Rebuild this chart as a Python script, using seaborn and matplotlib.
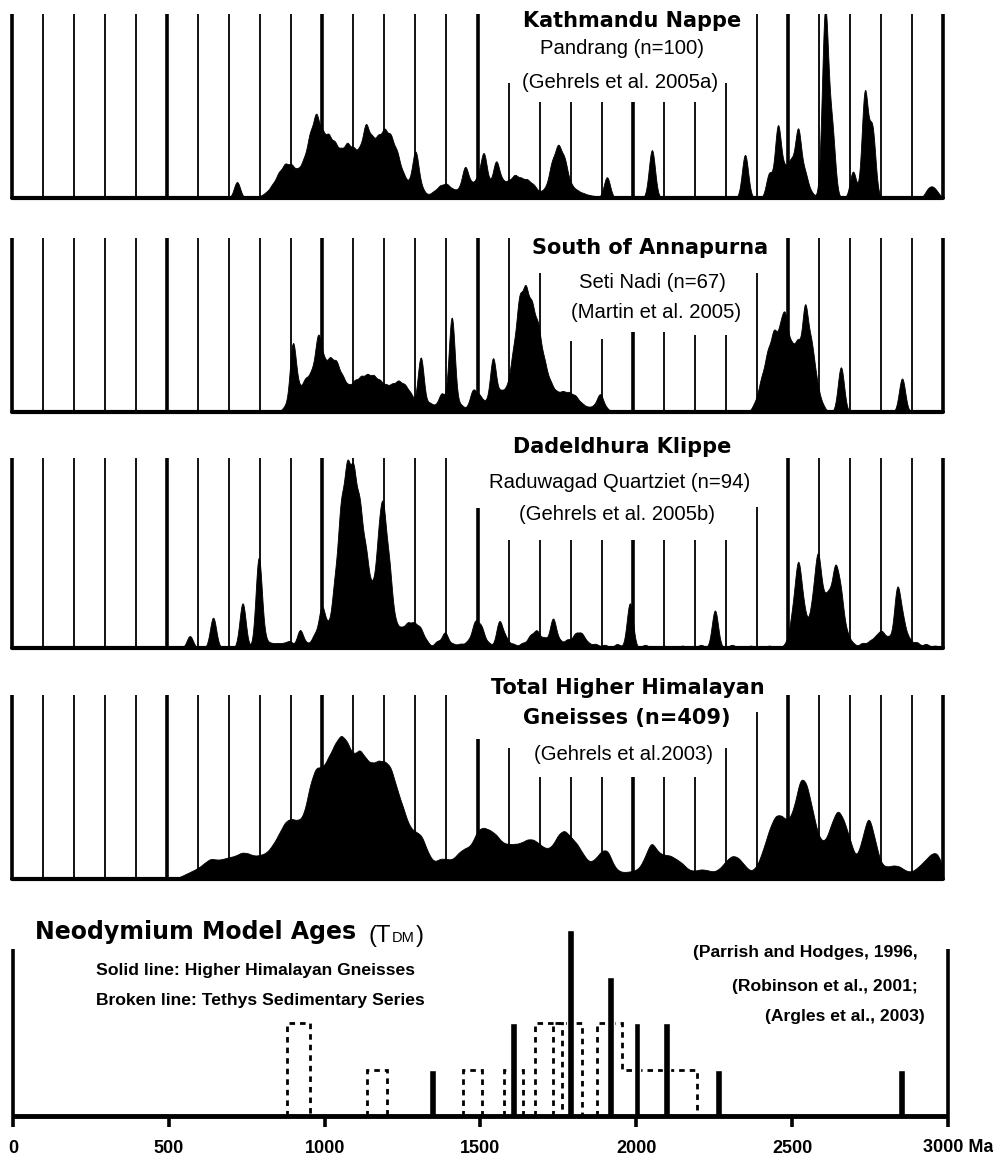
import numpy as np
import pandas as pd
import seaborn as sns
import matplotlib.pyplot as plt

sns.set_style('white')
plt.rcParams['font.family'] = ['DejaVu Sans']
plt.rcParams['text.color'] = 'black'
plt.rcParams['xtick.color'] = 'black'

NARROW = 'Liberation Sans'

# ---- detrital zircon age spectra (Ma, relative weight) ----
kathmandu_ages = [725, 800, 820, 840, 860, 880, 900, 920, 940, 960, 980, 1000, 1020, 1040,
                  1060, 1080, 1100, 1120, 1140, 1160, 1180, 1200, 1220, 1240, 1260, 1280,
                  1300, 1320, 1340, 1360, 1380, 1400, 1420, 1440, 1460, 1480, 1500, 1520,
                  1540, 1560, 1580, 1600, 1620, 1640, 1660, 1680, 1700, 1720, 1740, 1760,
                  1780, 1800, 1820, 1840, 1860, 1880, 1917, 2062, 2362, 2440, 2468, 2490,
                  2510, 2533, 2555, 2575, 2620, 2642, 2710, 2748, 2772, 2950, 2965, 2980]
kathmandu_weights = [20, 2, 6, 14, 26, 35, 34, 28, 38, 65, 88, 66, 64, 56,
                     48, 56, 50, 48, 78, 60, 62, 70, 64, 48, 25, 14,
                     55, 10, 3, 7, 13, 15, 9, 8, 36, 14, 20, 52,
                     12, 42, 17, 17, 24, 20, 19, 14, 6, 10, 38, 56,
                     42, 14, 8, 5, 3, 2, 26, 60, 54, 30, 88, 30,
                     40, 82, 28, 6, 230, 83, 33, 130, 85, 8, 10, 6]

annapurna_ages = [880, 905, 925, 945, 965, 986, 1005, 1025, 1045, 1065, 1085, 1105, 1125,
                  1145, 1165, 1185, 1205, 1225, 1245, 1265, 1285, 1317, 1345, 1365, 1385,
                  1417, 1445, 1465, 1485, 1505, 1525, 1550, 1575, 1595, 1615, 1635, 1655,
                  1675, 1695, 1715, 1735, 1755, 1775, 1795, 1815, 1835, 1855, 1875, 1895,
                  1915, 2395, 2415, 2435, 2455, 2475, 2492, 2512, 2532, 2555, 2575, 2592,
                  2610, 2671, 2868]
annapurna_weights = [6, 83, 22, 34, 40, 84, 50, 55, 52, 36, 26, 32, 36,
                     38, 37, 32, 27, 28, 32, 28, 20, 68, 10, 6, 22,
                     118, 8, 3, 25, 18, 10, 66, 22, 24, 62, 120, 128,
                     110, 90, 52, 30, 20, 21, 20, 17, 9, 5, 6, 21,
                     4, 10, 35, 62, 84, 78, 96, 66, 74, 120, 70, 28,
                     8, 56, 42]

dadeldhura_ages = [573, 648, 743, 795, 815, 835, 855, 875, 895, 928, 950, 975, 998, 1018,
                   1040, 1060, 1080, 1100, 1120, 1140, 1160, 1180, 1196, 1215, 1235, 1255,
                   1275, 1295, 1315, 1335, 1370, 1395, 1420, 1445, 1470, 1492, 1512, 1535,
                   1570, 1590, 1615, 1645, 1670, 1691, 1715, 1743, 1765, 1790, 1815, 1835,
                   1855, 1880, 1910, 1950, 1991, 2040, 2100, 2160, 2220, 2265, 2320, 2380,
                   2440, 2495, 2515, 2533, 2550, 2565, 2580, 2597, 2615, 2632, 2652, 2670,
                   2690, 2710, 2740, 2765, 2785, 2803, 2825, 2852, 2870, 2890, 2915, 2945,
                   2975]
dadeldhura_weights = [15, 38, 56, 112, 8, 5, 5, 5, 8, 22, 5, 15, 48, 22,
                      70, 150, 190, 185, 150, 100, 58, 100, 140, 88, 25, 20,
                      26, 26, 22, 8, 8, 19, 5, 5, 8, 30, 24, 6,
                      32, 12, 5, 6, 14, 20, 12, 36, 8, 10, 16, 16,
                      6, 5, 4, 5, 56, 4, 3, 3, 4, 47, 4, 3,
                      3, 5, 35, 92, 38, 12, 43, 100, 42, 52, 85, 60,
                      15, 5, 6, 8, 12, 18, 12, 70, 30, 10, 7, 5,
                      3]

himalaya_ages = list(range(540, 3001, 20))
himalaya_weights = [2, 5, 8, 11, 16, 21, 19, 20, 22, 23, 27, 26, 23, 24, 26, 34, 45, 58,
                    61, 58, 62, 95, 114, 110, 122, 135, 146, 138, 122, 132, 120, 115, 119,
                    118, 114, 90, 72, 52, 47, 45, 26, 16, 21, 20, 19, 27, 31, 33, 50, 52,
                    49, 45, 36, 35, 35, 36, 40, 40, 35, 30, 32, 45, 50, 42, 36, 25, 16, 20,
                    29, 30, 12, 7, 7, 8, 10, 22, 40, 27, 24, 24, 20, 16, 9, 8, 10, 9, 7,
                    10, 18, 24, 22, 14, 7, 12, 29, 50, 65, 64, 57, 70, 104, 98, 68, 40,
                    36, 55, 72, 60, 40, 18, 40, 69, 40, 14, 12, 14, 13, 8, 7, 12, 18, 25,
                    28, 12]

# ---- Nd model ages ----
hhg_ages = [1347, 1607, 1790, 1918, 2002, 2098, 2265, 2852]
hhg_counts = [1, 2, 4, 3, 2, 2, 1, 1]
tethys_edges = [[879, 953], [1136, 1200], [1444, 1505], [1575, 1636],
                [1675, 1760], [1733, 1826], [1874, 1954, 2194]]
tethys_counts = [[2], [1], [1], [1], [2], [2], [2, 1]]
nd_ticks = [0, 500, 1000, 1500, 2000, 2500, 3000]
nd_ticklabels = ['0', '500', '1000', '1500', '2000', '2500', '']

grid_ages = list(range(0, 3001, 100))

W, H = 993, 1159
fig = plt.figure(figsize=(W / 100, H / 100), dpi=100)


def ftext(x, y, s, **kw):
    fig.text(x / W, 1 - y / H, s, **kw)


def title(x, y, s):
    ftext(x, y, s, ha='center', va='center', fontsize=15, fontweight='bold')


def sub(x, y, s):
    ftext(x, y, s, ha='center', va='center', fontsize=14.6, family=NARROW)


def density_panel(top, bottom, ages, weights, bw, cuts):
    ax = fig.add_axes([12 / W, 1 - bottom / H, (943 - 12) / W, (bottom - top) / H])
    df = pd.DataFrame({'age': ages, 'weight': weights})
    spread = np.sqrt(np.cov(df['age'], aweights=df['weight']))
    sns.kdeplot(data=df, x='age', weights='weight', bw_method=bw / spread,
                fill=True, color='black', alpha=1, linewidth=0.6,
                gridsize=4000, ax=ax)
    ax.set_xlim(0, 3000)
    ax.set_ylim(0, (bottom - top) / (20 * df['weight'].sum()))
    tops = [cuts.get(a, 1.0) for a in grid_ages]
    widths = [2.6 if a % 500 == 0 else 1.3 for a in grid_ages]
    ax.vlines(grid_ages, 0, tops, transform=ax.get_xaxis_transform(),
              colors='black', linewidths=widths, clip_on=False)
    ax.axhline(0, color='black', lw=3, clip_on=False)
    ax.axis('off')
    return ax


density_panel(14, 198, kathmandu_ages, kathmandu_weights, 10,
              {1600: 0.625, 1700: 0.522, 1800: 0.522, 1900: 0.522, 2000: 0.522,
               2100: 0.522, 2200: 0.522, 2300: 0.625})
title(632, 21, 'Kathmandu Nappe')
sub(622, 48, 'Pandrang (n=100)')
sub(620, 82, '(Gehrels et al. 2005a)')

density_panel(238, 412, annapurna_ages, annapurna_weights, 10,
              {1700: 0.80, 1800: 0.41, 1900: 0.42, 2000: 0.46, 2100: 0.46,
               2200: 0.44, 2300: 0.44, 2400: 0.80})
title(650, 248, 'South of Annapurna')
sub(652, 283, 'Seti Nadi (n=67)')
sub(656, 313, '(Martin et al. 2005)')

density_panel(458, 648, dadeldhura_ages, dadeldhura_weights, 10,
              {1500: 0.737, 1600: 0.568, 1700: 0.568, 1800: 0.568, 1900: 0.568,
               2000: 0.568, 2100: 0.568, 2200: 0.568, 2300: 0.568, 2400: 0.742})
title(622, 447, 'Dadeldhura Klippe')
sub(620, 483, 'Raduwagad Quartziet (n=94)')
sub(617, 514, '(Gehrels et al. 2005b)')

density_panel(695, 879, himalaya_ages, himalaya_weights, 12,
              {1500: 0.76, 1600: 0.712, 1700: 0.554, 1800: 0.554, 1900: 0.554,
               2000: 0.554, 2100: 0.554, 2200: 0.554, 2300: 0.712, 2400: 0.908})
title(628, 688, 'Total Higher Himalayan')
title(627, 718, 'Gneisses (n=409)')
sub(623, 755, '(Gehrels et al.2003)')

# ---- Nd panel ----
unit = 46.5
ax = fig.add_axes([13 / W, 1 - 1116 / H, (948 - 13) / W, 195 / H])
ax.bar(hhg_ages, hhg_counts, width=22, color='black', zorder=3)
for edges, counts in zip(tethys_edges, tethys_counts):
    ax.stairs(counts, edges, baseline=0, fill=False, color='black',
              linewidth=2.0, linestyle=(0, (2.0, 1.8)))
ax.set_xlim(0, 3000)
ax.set_ylim(0, 195 / unit)
for s in ax.spines.values():
    s.set_visible(False)
ax.hlines(0, 0, 3000, color='black', lw=3.5, clip_on=False, zorder=4)
ax.vlines([0, 3000], 0, 3.6, color='black', lw=2.6, clip_on=False)
ax.set_yticks([])
ax.set_xticks(nd_ticks)
ax.set_xticklabels(nd_ticklabels, fontsize=13, fontweight='bold',
                   family='Liberation Sans', color='black')
ax.tick_params(axis='x', bottom=True, length=8, width=2.6, color='black',
               direction='out', pad=9)

ftext(35, 932, 'Neodymium Model Ages', ha='left', va='center',
      fontsize=17, fontweight='bold')
ftext(369, 942, '(T', ha='left', va='baseline', fontsize=17, family='Liberation Sans')
ftext(392, 942, 'DM', ha='left', va='baseline', fontsize=10.5, family='Liberation Sans')
ftext(416, 942, ')', ha='left', va='baseline', fontsize=17, family='Liberation Sans')

nd_kw = dict(fontsize=12.6, fontweight='bold', family=NARROW, va='center')
ftext(96, 971, 'Solid line: Higher Himalayan Gneisses', ha='left', **nd_kw)
ftext(96, 1001, 'Broken line: Tethys Sedimentary Series', ha='left', **nd_kw)
ftext(918, 952, '(Parrish and Hodges, 1996,', ha='right', **nd_kw)
ftext(918, 986, '(Robinson et al., 2001;', ha='right', **nd_kw)
ftext(925, 1017, '(Argles et al., 2003)', ha='right', **nd_kw)
ftext(923, 1148, '3000 Ma', ha='left', va='center', fontsize=13, fontweight='bold',
      family='Liberation Sans')

fig.savefig('out.png', dpi=100)
